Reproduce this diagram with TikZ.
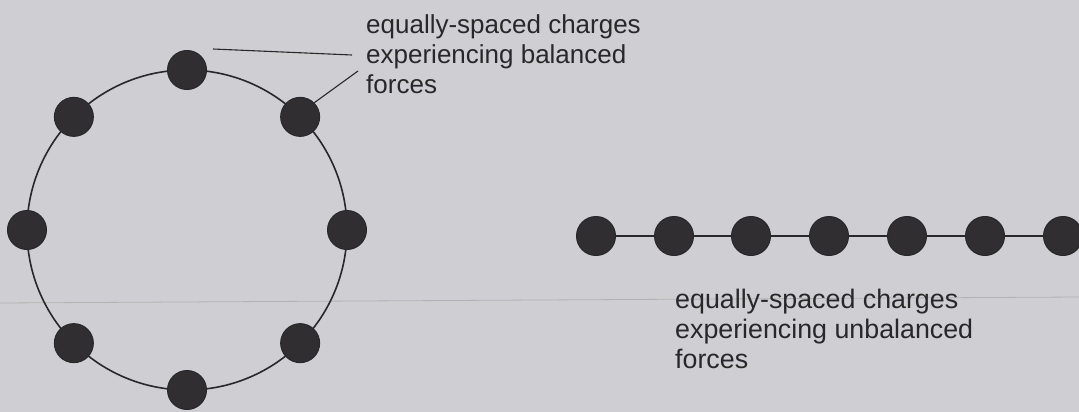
\documentclass[tikz,border=0pt]{standalone}
\usepackage{fontspec}
\setmainfont{Liberation Sans}
\usetikzlibrary{calc}
\definecolor{paper}{RGB}{207,207,211}
\definecolor{ink}{RGB}{40,40,42}
\definecolor{chargefill}{RGB}{48,46,48}
\tikzset{
  charge/.style={circle, draw=ink, line width=1pt, fill=chargefill, minimum size=39pt, inner sep=0pt},
  wire/.style={draw=ink, line width=1.6pt},
  leader/.style={draw=ink, line width=1.1pt},
  label/.style={anchor=north west, inner sep=0pt, align=left, text=ink},
}
\begin{document}
\begin{tikzpicture}[x=1pt, y=-1pt]
\useasboundingbox (0,0) rectangle (1079,412);
\fill[paper] (0,0) rectangle (1079,412);
% faint fold line of the scan
\coordinate (foldL) at (0,303);
\coordinate (foldR) at (1079,297);
\draw[black!30, line width=0.8pt] (foldL) -- (foldR);

% ring of charges
\coordinate (ctr) at (187,230);
\draw[wire] (ctr) circle[radius=160];
\foreach \i/\a in {1/90,2/45,3/0,4/-45,5/-90,6/-135,7/180,8/135}{
  \node[charge] (c\i) at ($(ctr)+(\a:160 and -160)$) {};
}

% line of charges
\foreach \i/\x in {1/596,2/674,3/751,4/829,5/907,6/985,7/1063}{
  \node[charge] (l\i) at (\x,236) {};
}
\draw[wire] (l1) -- (l2) -- (l3) -- (l4) -- (l5) -- (l6) -- (l7);

% labels
\node[label, font=\fontsize{26}{30}\selectfont] (t1) at (366,14.5)
  {equally-spaced charges\\experiencing balanced\\forces};
\node[label, font=\fontsize{26.8}{30}\selectfont] (t2) at (675,289)
  {equally-spaced charges\\experiencing unbalanced\\forces};

% leader lines
\coordinate (a1) at (213,49);
\coordinate (a2) at (352,55);
\draw[leader] (a1) -- (a2);
\coordinate (b2) at (358,71);
\draw[leader] (c2.north east) -- (b2);
\end{tikzpicture}
\end{document}
